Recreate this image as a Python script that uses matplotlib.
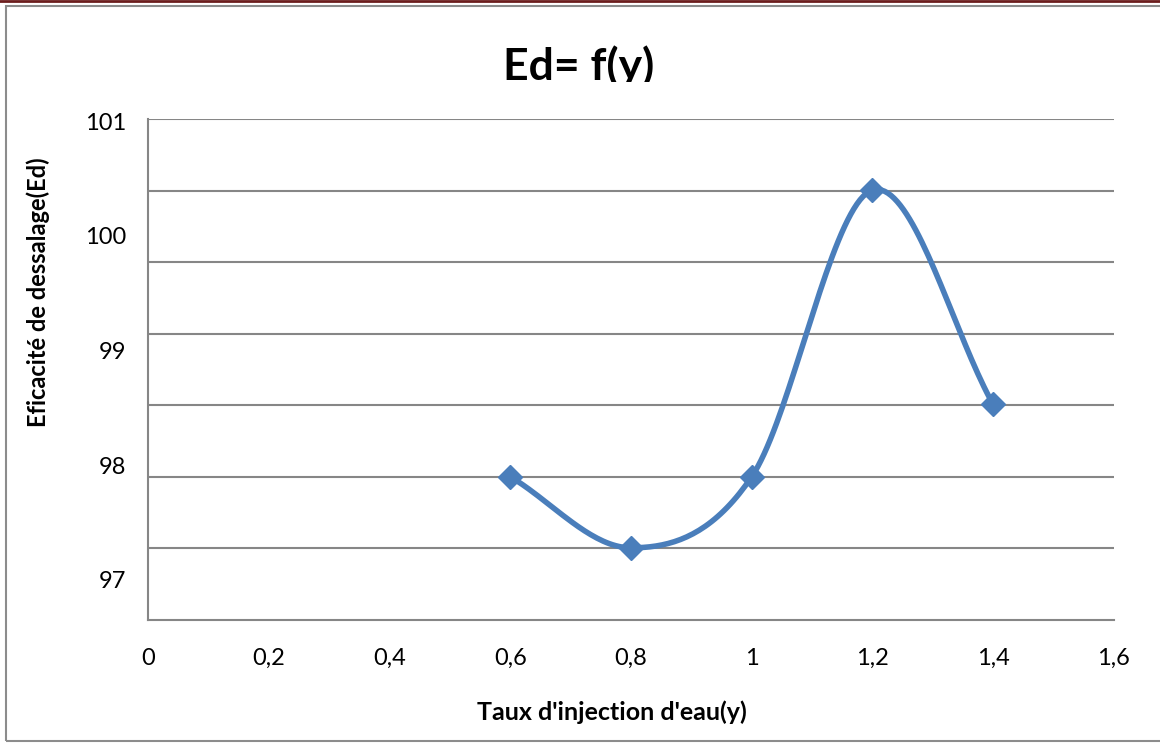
import numpy as np
import matplotlib.pyplot as plt
from matplotlib.patches import Rectangle
from matplotlib.lines import Line2D
from matplotlib.transforms import Bbox, TransformedBbox

# données
taux = [0.6, 0.8, 1.0, 1.2, 1.4]
ed = [97.9, 97.28, 97.9, 100.4, 98.53]
xticks = [0, 0.2, 0.4, 0.6, 0.8, 1.0, 1.2, 1.4, 1.6]
xlabels = ["0", "0,2", "0,4", "0,6", "0,8", "1", "1,2", "1,4", "1,6"]
yticks = [97, 98, 99, 100, 101]

bleu = "#4a7ebb"
gris = "#868686"


def lissage(x, y, n=40):
    """courbe lissée type Excel (Catmull-Rom) passant par les points"""
    x = np.asarray(x, float)
    y = np.asarray(y, float)
    px = np.concatenate([[2 * x[0] - x[1]], x, [2 * x[-1] - x[-2]]])
    py = np.concatenate([[2 * y[0] - y[1]], y, [2 * y[-1] - y[-2]]])
    xs, ys = [], []
    t = np.linspace(0, 1, n)
    for i in range(1, len(px) - 2):
        for p, out in ((px, xs), (py, ys)):
            p0, p1, p2, p3 = p[i - 1], p[i], p[i + 1], p[i + 2]
            out.append(0.5 * (2 * p1 + (-p0 + p2) * t
                              + (2 * p0 - 5 * p1 + 4 * p2 - p3) * t ** 2
                              + (-p0 + 3 * p1 - 3 * p2 + p3) * t ** 3))
    return np.concatenate(xs), np.concatenate(ys)


plt.rcParams['font.family'] = ['Lato', 'DejaVu Sans']

fig = plt.figure(figsize=(11.6, 7.43), dpi=100)
ax = fig.add_axes([0.1276, 0.1655, 0.8327, 0.6743])

ymin, ymax = 96.65, 101.02
ax.set_xlim(0, 1.6)
ax.set_ylim(ymin, ymax)

# quadrillage horizontal
for g in np.linspace(ymin, ymax, 8)[1:]:
    ax.axhline(g, color=gris, lw=1.5, zorder=1)

xs, ys = lissage(taux, ed)
ax.plot(xs, ys, color=bleu, lw=4, zorder=3, solid_capstyle='round')
ax.plot(taux, ed, ls='none', marker='D', ms=12, color=bleu, zorder=4)

ax.set_xticks(xticks)
ax.set_xticklabels(xlabels)
ax.set_yticks(yticks)
ax.set_yticklabels([str(v) for v in yticks])
ax.tick_params(length=0, labelsize=17, colors='black')
ax.tick_params(axis='x', pad=20)
ax.tick_params(axis='y', pad=16)

for s in ['top', 'right']:
    ax.spines[s].set_visible(False)
for s in ['left', 'bottom']:
    ax.spines[s].set_color(gris)
    ax.spines[s].set_linewidth(1.5)

ax.set_xlabel("Taux d'injection d'eau(y)", fontsize=18, fontweight='bold')
ax.xaxis.set_label_coords(0.48, -0.16)
ax.set_ylabel("Eficacité de dessalage(Ed)", fontsize=17, fontweight='bold')
ax.yaxis.set_label_coords(-0.101, 0.655)

# titre coupé sous la ligne de base, comme dans l'original
titre = fig.text(0.499, 0.893, "Ed= f(y)", fontsize=32, fontweight='bold',
                 ha='center', va='baseline')
titre.set_clip_box(TransformedBbox(Bbox([[0, 661 / 743], [1, 1]]), fig.transFigure))
titre.set_clip_on(True)

# cadre extérieur et filet du haut
fig.patches.append(Rectangle((6 / 1160, 2 / 743), 1.2, 735 / 743, transform=fig.transFigure,
                             fill=False, edgecolor='#8c8c8c', lw=1.5))
fig.lines.append(Line2D([0, 1], [0.9985, 0.9985], transform=fig.transFigure,
                        color='#6b1d1d', lw=2))

fig.savefig("out.png", dpi=100)
